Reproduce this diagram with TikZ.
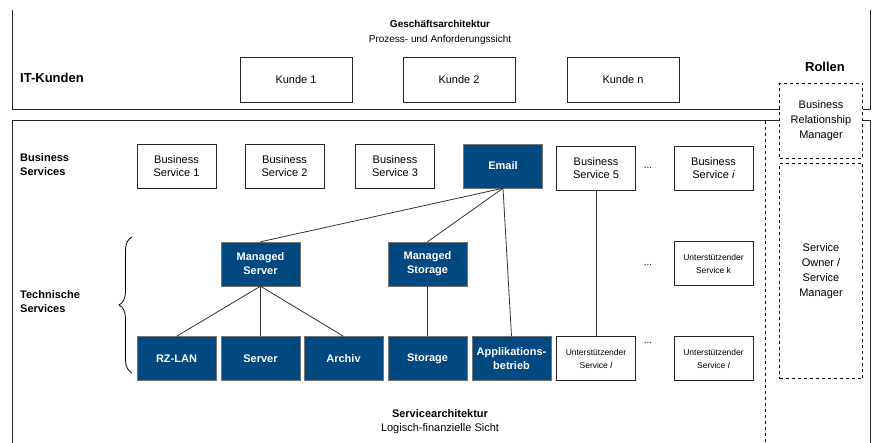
\documentclass[tikz,border=0pt]{standalone}
\usepackage{fontspec}
\setmainfont{Liberation Sans}
\usetikzlibrary{decorations.pathreplacing}
\definecolor{itblue}{RGB}{0,72,128}

\begin{document}
\begin{tikzpicture}[x=1pt,y=-1pt,
  svc/.style={draw=black!85,fill=white,align=center,inner sep=0pt,minimum width=79pt,minimum height=44pt,font=\fontsize{11}{13.5}\selectfont},
  tech/.style={svc,draw=black!55,fill=itblue,text=white,font=\fontsize{11}{14}\selectfont\bfseries},
  small/.style={svc,font=\fontsize{8.5}{13}\selectfont},
  kunde/.style={svc,minimum width=112pt,minimum height=45pt},
  role/.style={draw,dashed,fill=white,align=center,inner sep=0pt,minimum width=83pt,font=\fontsize{11}{15}\selectfont},
  head/.style={anchor=west,align=left,inner sep=0pt,font=\fontsize{11}{14}\selectfont\bfseries},
  link/.style={black!80,line width=0.8pt}]
\useasboundingbox (0,0) rectangle (874,443);
% frames
\draw[black!85,line width=1pt] (12,10) -- (12,110) -- (870,110) -- (870,10);
\draw[black!85,line width=1pt] (12,445) -- (12,121) -- (870,121) -- (870,445);
\draw[dashed,line width=0.8pt] (765,121) -- (765,445);
% customers
\node[align=center,font=\fontsize{10}{15}\selectfont] (geschaeft) at (440,32) {\textbf{Geschäftsarchitektur}\\Prozess- und Anforderungssicht};
\node[head,font=\fontsize{13}{15}\selectfont\bfseries] (itkunden) at (20,78) {IT-Kunden};
\node[kunde] (k1) at (296,79.5) {Kunde 1};
\node[kunde] (k2) at (459,79.5) {Kunde 2};
\node[kunde] (kn) at (623,79.5) {Kunde n};
% roles
\node[font=\fontsize{13}{15}\selectfont\bfseries] (rollen) at (825,67) {Rollen};
\node[role,minimum height=75pt] (brm) at (821,121) {Business\\Relationship\\Manager};
\node[role,minimum height=215pt] (owner) at (821,271) {Service\\Owner /\\Service\\Manager};
% business services
\node[head] (bslabel) at (20,165) {Business\\Services};
\node[svc] (bs1) at (176.5,166) {Business\\Service 1};
\node[svc] (bs2) at (284.5,166) {Business\\Service 2};
\node[svc] (bs3) at (395,166) {Business\\Service 3};
\node[tech] (email) at (503,166) {Email};
\node[svc] (bs5) at (596,168) {Business\\Service 5};
\node (dots1) at (648,168) {...};
\node[svc] (bsi) at (713.5,168) {Business\\Service \textit{i}};
% technical services
\node[head] (tslabel) at (20,302) {Technische\\Services};
\draw[decorate,decoration={brace,amplitude=13pt},line width=0.8pt] (132,373) -- (132,237);
\node[tech] (mserver) at (260.5,264) {Managed\\Server};
\node[tech] (mstorage) at (427.5,264) {Managed\\Storage};
\node (dots2) at (648,265) {...};
\node[small] (usk) at (713.5,263.5) {Unterstützender\\Service k};
\node[tech] (rzlan) at (176.5,358.5) {RZ-LAN};
\node[tech] (server) at (260.5,358.5) {Server};
\node[tech] (archiv) at (343.5,358.5) {Archiv};
\node[tech] (storage) at (427.5,358.5) {Storage};
\node[tech] (appl) at (511.5,358.5) {Applikations-\\betrieb};
\node[small] (usl) at (596,358.5) {Unterstützender\\Service \textit{l}};
\node (dots3) at (648,343) {...};
\node[small] (usl2) at (713.5,358.5) {Unterstützender\\Service \textit{l}};
\node[align=center,font=\fontsize{11}{14}\selectfont] (servicearch) at (440,422) {\textbf{Servicearchitektur}\\Logisch-finanzielle Sicht};
% dependencies
\draw[link] (email.south) -- (mserver.north);
\draw[link] (email.south) -- (mstorage.north);
\draw[link] (email.south) -- (appl.north);
\draw[link] (bs5.south) -- (usl.north);
\draw[link] (mserver.south) -- (rzlan.north);
\draw[link] (mserver.south) -- (server.north);
\draw[link] (mserver.south) -- (archiv.north);
\draw[link] (mstorage.south) -- (storage.north);
\end{tikzpicture}
\end{document}
